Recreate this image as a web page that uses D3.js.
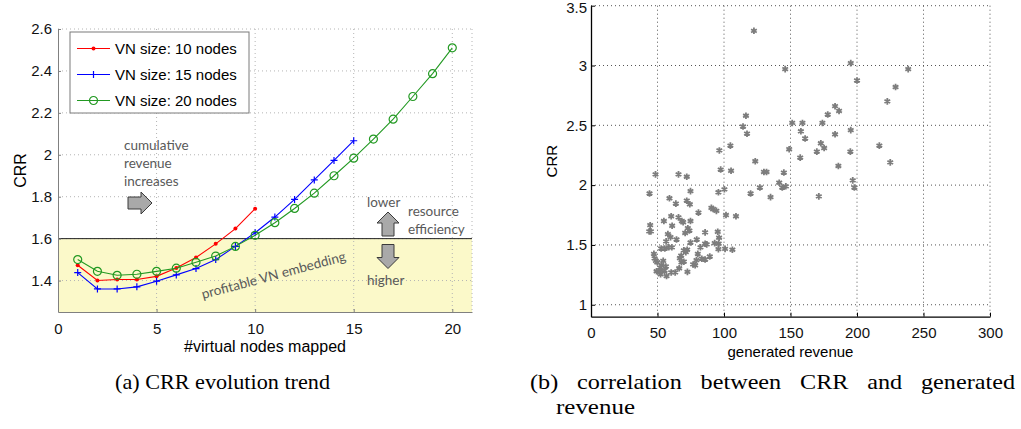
<!DOCTYPE html>
<html>
<head>
<meta charset="utf-8">
<script src="https://cdn.jsdelivr.net/npm/d3@7"></script>
<style>
  body { margin: 0; background: #fff; }
  svg { display: block; }
  .tick text { font-family: "Liberation Sans", Arial, sans-serif; }
</style>
</head>
<body>
<svg id="fig" width="1021" height="429" viewBox="0 0 1021 429"></svg>
<script>
// ---- data: (a) CRR evolution trend
const nodesMapped = [1, 2, 3, 4, 5, 6, 7, 8, 9, 10, 11, 12, 13, 14, 15, 16, 17, 18, 19, 20];
const crr10 = [1.473, 1.400, 1.405, 1.405, 1.420, 1.460, 1.510, 1.575, 1.648, 1.743];
const crr15 = [1.438, 1.360, 1.360, 1.370, 1.397, 1.427, 1.457, 1.500, 1.563, 1.628,
               1.703, 1.787, 1.880, 1.973, 2.067];
const crr20 = [1.500, 1.444, 1.425, 1.430, 1.444, 1.459, 1.487, 1.517, 1.563, 1.616,
               1.676, 1.744, 1.817, 1.900, 1.984, 2.075, 2.170, 2.278, 2.387, 2.510];
const seriesNames = ["VN size: 10 nodes", "VN size: 15 nodes", "VN size: 20 nodes"];
const leftYTicks = [1.4, 1.6, 1.8, 2, 2.2, 2.4, 2.6];
const leftXTicks = [0, 5, 10, 15, 20];
const profitLimit = 1.6;

// ---- data: (b) correlation between CRR and generated revenue
const revenue = [
  122.5, 195.3, 146, 238.5, 200, 229, 222.8, 183.5, 186.5, 178, 116.5, 174, 151.3, 159, 114.3,
  157.8, 117.3, 183.5, 195.3, 161, 104.8, 96.5, 172.8, 149, 175.3, 169.8, 195, 216.8, 157.3,
  123.5, 97.5, 105.3, 130, 132, 145, 186, 225, 141.5, 196.8, 143.8, 146.5, 127, 198, 100.3,
  120, 135, 171.3,
  48.5, 65.8, 72, 44, 74.8, 95.8, 59, 63.8, 72, 74.3, 80.8, 90.5, 91.8, 94.3, 101.5, 109,
  60.3, 65.8, 68.3, 69.3, 74.8, 54.8, 44.5, 43.8, 45, 61, 72.8, 74, 57.8, 59.8, 70.8, 85.8,
  95.3, 64.3, 79.5, 96.3, 56.5, 74.8, 85.8, 93, 96, 52.8, 55.5, 58.5, 60.8, 69.8, 72.3, 82.3,
  87, 95.8, 100.8, 106.3, 47.3, 47.8, 48.8, 67.8, 66.8, 71.3, 80.3, 83.3, 85.8, 89.3, 79.3,
  76.8, 78.3, 54.3, 53, 52, 49.8, 68, 69.8, 66.3, 56.3, 49.3, 51.8, 55.3, 60.3, 63.3, 52.3,
  56.8, 72.5
];
const crrScatter = [
  3.29, 3.02, 2.97, 2.97, 2.875, 2.82, 2.70, 2.66, 2.62, 2.59, 2.58, 2.52, 2.52, 2.52, 2.49,
  2.45, 2.43, 2.425, 2.46, 2.39, 2.33, 2.29, 2.35, 2.30, 2.31, 2.28, 2.28, 2.33, 2.23,
  2.20, 2.13, 2.12, 2.11, 2.11, 2.105, 2.16, 2.19, 2.02, 2.04, 1.98, 1.99, 1.98, 1.98, 1.965,
  1.93, 1.90, 1.906,
  2.09, 2.09, 2.07, 1.93, 1.95, 1.94, 1.89, 1.845, 1.87, 1.84, 1.77, 1.81, 1.80, 1.785, 1.75, 1.74,
  1.74, 1.73, 1.70, 1.69, 1.70, 1.70, 1.665, 1.613, 1.613, 1.66, 1.64, 1.62, 1.59, 1.565, 1.60, 1.605,
  1.61, 1.545, 1.545, 1.56, 1.53, 1.52, 1.51, 1.515, 1.51, 1.47, 1.47, 1.48, 1.48, 1.455, 1.46, 1.48,
  1.505, 1.465, 1.467, 1.46, 1.425, 1.387, 1.367, 1.41, 1.39, 1.44, 1.425, 1.385, 1.378, 1.403, 1.373,
  1.337, 1.33, 1.367, 1.33, 1.31, 1.355, 1.355, 1.36, 1.305, 1.32, 1.28, 1.276, 1.285, 1.27, 1.27, 1.255,
  1.24, 1.275
];
const rightYTicks = [1, 1.5, 2, 2.5, 3, 3.5];
const rightXTicks = [0, 50, 100, 150, 200, 250, 300];

const svg = d3.select("#fig");
svg.append("rect").attr("width", 1021).attr("height", 429).attr("fill", "#fff");

const sans = '"Liberation Sans", Arial, sans-serif';
const note = 'Lato, "Open Sans", sans-serif';

// =================== left chart ===================
const xL = d3.scaleLinear().domain([0, 21]).range([58, 472]);
const yL = d3.scaleLinear().domain([1.25, 2.6]).range([312, 29]);
const left = svg.append("g");

// profitable region
left.append("rect")
    .attr("x", xL(0)).attr("y", yL(profitLimit))
    .attr("width", xL(21) - xL(0)).attr("height", yL(1.25) - yL(profitLimit))
    .attr("fill", "#fbf9c9");

// grid
left.append("g").selectAll("line").data(leftYTicks).enter().append("line")
    .attr("x1", xL(0)).attr("x2", xL(21))
    .attr("y1", d => yL(d)).attr("y2", d => yL(d))
    .attr("stroke", "#b4b4b4").attr("stroke-dasharray", "1,3");
left.append("g").selectAll("line").data([5, 10, 15, 20, 21]).enter().append("line")
    .attr("x1", d => xL(d)).attr("x2", d => xL(d))
    .attr("y1", yL(2.6)).attr("y2", yL(1.25))
    .attr("stroke", "#b4b4b4").attr("stroke-dasharray", "1,3");

// 1.6 threshold
left.append("line")
    .attr("x1", xL(0)).attr("x2", xL(21))
    .attr("y1", yL(profitLimit)).attr("y2", yL(profitLimit))
    .attr("stroke", "#222").attr("stroke-width", 1);

// axes
const axL = left.append("g").attr("transform", `translate(${xL(0)},0)`)
    .call(d3.axisLeft(yL).tickValues(leftYTicks).tickFormat(d => String(d)).tickSizeInner(-3).tickSizeOuter(0).tickPadding(6));
const axB = left.append("g").attr("transform", `translate(0,${yL(1.25)})`)
    .call(d3.axisBottom(xL).tickValues(leftXTicks).tickSizeInner(-3).tickSizeOuter(0).tickPadding(8));
[axL, axB].forEach(a => {
    a.select(".domain").attr("stroke", "#808080");
    a.selectAll(".tick line").attr("stroke", "#808080");
    a.selectAll(".tick text").attr("font-size", 15).attr("fill", "#111");
});
axB.selectAll(".tick text").attr("dy", "0.9em");

left.append("text").attr("x", (xL(0) + xL(21)) / 2).attr("y", 352)
    .attr("text-anchor", "middle").attr("font-family", sans).attr("font-size", 16)
    .text("#virtual nodes mapped");
left.append("text").attr("transform", `translate(26,${(yL(2.6) + yL(1.25)) / 2}) rotate(-90)`)
    .attr("text-anchor", "middle").attr("font-family", sans).attr("font-size", 16)
    .text("CRR");

// series
const colors = ["#ff0000", "#0000ff", "#229922"];
const allSeries = [crr10, crr15, crr20];
const line = d3.line().x((d, i) => xL(nodesMapped[i])).y(d => yL(d));

function marker(g, k) {
    if (k === 0) {
        g.append("circle").attr("r", 2).attr("fill", colors[0]);
    } else if (k === 1) {
        g.append("path").attr("d", "M-3.5,0H3.5M0,-3.5V3.5").attr("stroke", colors[1]).attr("stroke-width", 1.2);
    } else {
        g.append("circle").attr("r", 4).attr("fill", "none").attr("stroke", colors[2]).attr("stroke-width", 1.2);
    }
}

allSeries.forEach((vals, k) => {
    left.append("path").datum(vals).attr("d", line)
        .attr("fill", "none").attr("stroke", colors[k]).attr("stroke-width", 1.1);
    left.append("g").selectAll("g").data(vals).enter().append("g")
        .attr("transform", (d, i) => `translate(${xL(nodesMapped[i])},${yL(d)})`)
        .each(function() { marker(d3.select(this), k); });
});

// legend
const leg = left.append("g").attr("transform", "translate(70,32)");
leg.append("rect").attr("width", 179).attr("height", 81)
    .attr("fill", "#fff").attr("stroke", "#7a7a7a");
seriesNames.forEach((name, k) => {
    const gy = 16.5 + k * 26;
    leg.append("line").attr("x1", 7).attr("x2", 40).attr("y1", gy).attr("y2", gy)
        .attr("stroke", colors[k]).attr("stroke-width", 1.1);
    marker(leg.append("g").attr("transform", `translate(23.5,${gy})`), k);
    leg.append("text").attr("x", 45).attr("y", gy).attr("dy", "0.35em")
        .attr("font-family", sans).attr("font-size", 15).text(name);
});

// annotations
function arrow(cx, cy, dir) {
    // dir: "right", "up", "down"
    const L = 24, hl = 11, hw = 11, sw = 6;
    let pts = [[-L / 2, -sw], [L / 2 - hl, -sw], [L / 2 - hl, -hw], [L / 2, 0],
               [L / 2 - hl, hw], [L / 2 - hl, sw], [-L / 2, sw]];
    const rot = dir === "right" ? 0 : dir === "up" ? -90 : 90;
    left.append("polygon")
        .attr("points", pts.map(p => p.join(",")).join(" "))
        .attr("transform", `translate(${cx},${cy}) rotate(${rot})`)
        .attr("fill", "#a9a9a9").attr("stroke", "#3a3a3a").attr("stroke-width", 1);
}
const noteTxt = (x, y, t) => left.append("text").attr("x", x).attr("y", y).attr("dy", "0.35em")
    .attr("font-family", note).attr("font-size", 13.5).attr("fill", "#595959").text(t);

noteTxt(124, 145, "cumulative");
noteTxt(124, 163, "revenue");
noteTxt(124, 181, "increases");
arrow(140, 203, "right");

noteTxt(367, 202, "lower");
noteTxt(408, 211, "resource");
noteTxt(408, 229, "efficiency");
noteTxt(367, 280, "higher");
arrow(388, 224, "up");
arrow(388, 256.5, "down");

left.append("text")
    .attr("transform", "translate(203,299) rotate(-15)")
    .attr("font-family", note).attr("font-size", 13.5).attr("fill", "#595959")
    .text("profitable VN embedding");

// =================== right chart ===================
const xR = d3.scaleLinear().domain([0, 300]).range([591, 990]);
const yR = d3.scaleLinear().domain([0.9, 3.5]).range([316.7, 5.7]);
const right = svg.append("g");

right.append("g").selectAll("line").data(rightYTicks).enter().append("line")
    .attr("x1", xR(0)).attr("x2", xR(300))
    .attr("y1", d => yR(d)).attr("y2", d => yR(d))
    .attr("stroke", "#555").attr("stroke-dasharray", "1,3");
right.append("g").selectAll("line").data(rightXTicks.slice(1)).enter().append("line")
    .attr("x1", d => xR(d)).attr("x2", d => xR(d))
    .attr("y1", yR(3.5)).attr("y2", yR(0.9))
    .attr("stroke", "#555").attr("stroke-dasharray", "1,3");

const raL = right.append("g").attr("transform", `translate(${xR(0)},0)`)
    .call(d3.axisLeft(yR).tickValues(rightYTicks).tickFormat(d => String(d)).tickSizeInner(-4).tickSizeOuter(0).tickPadding(4));
const raB = right.append("g").attr("transform", `translate(0,${yR(0.9)})`)
    .call(d3.axisBottom(xR).tickValues(rightXTicks).tickSizeInner(-4).tickSizeOuter(0).tickPadding(8));
[raL, raB].forEach(a => {
    a.select(".domain").attr("stroke", "#000").attr("stroke-width", 1.3);
    a.selectAll(".tick line").attr("stroke", "#000");
    a.selectAll(".tick text").attr("font-size", 15).attr("fill", "#111");
});
raB.selectAll(".tick text").attr("dy", "0.9em");
// keep the top label inside the page
raL.selectAll(".tick text").filter(d => d === 3.5).attr("dy", "0.45em");

right.append("text").attr("x", (xR(0) + xR(300)) / 2).attr("y", 357)
    .attr("text-anchor", "middle").attr("font-family", sans).attr("font-size", 15)
    .text("generated revenue");
right.append("text").attr("transform", `translate(557,${(yR(3.5) + yR(0.9)) / 2}) rotate(-90)`)
    .attr("text-anchor", "middle").attr("font-family", sans).attr("font-size", 15)
    .text("CRR");

const star = d3.symbol().type(d3.symbolAsterisk).size(30);
right.append("g").selectAll("path").data(revenue).enter().append("path")
    .attr("d", star)
    .attr("transform", (d, i) => `translate(${xR(d)},${yR(crrScatter[i])})`)
    .attr("fill", "none").attr("stroke", "#7d7d7d").attr("stroke-width", 1.8);

// =================== captions ===================
const serif = '"Liberation Serif", "Times New Roman", serif';
svg.append("text").attr("x", 115).attr("y", 389)
    .attr("font-family", serif).attr("font-size", 22)
    .attr("textLength", 215).attr("lengthAdjust", "spacingAndGlyphs")
    .text("(a) CRR evolution trend");
// caption (b): glyphs slightly widened, line justified by word gaps
const widen = 1.1;
const capB = svg.append("g").attr("transform", `translate(530,389) scale(${widen},1)`)
    .append("text")
    .attr("font-family", serif).attr("font-size", 22)
    .text("(b) correlation between CRR and generated");
const natural = capB.node().getComputedTextLength();
const gaps = 5;
const extra = 485 / widen - natural;
if (extra > 0) capB.attr("word-spacing", extra / gaps);
svg.append("text").attr("x", 556).attr("y", 414)
    .attr("font-family", serif).attr("font-size", 22)
    .attr("textLength", 79).attr("lengthAdjust", "spacingAndGlyphs")
    .text("revenue");
</script>
</body>
</html>
